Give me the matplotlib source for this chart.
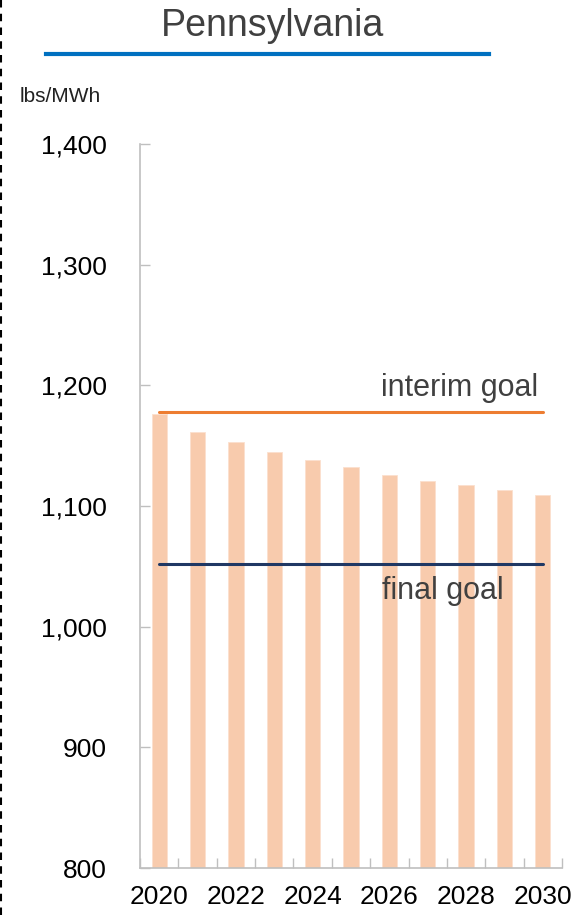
import numpy as np
import matplotlib.pyplot as plt
from matplotlib.lines import Line2D
from matplotlib.ticker import FuncFormatter

plt.rcParams['font.family'] = ['Liberation Sans', 'DejaVu Sans']

# data
years = [2020, 2021, 2022, 2023, 2024, 2025, 2026, 2027, 2028, 2029, 2030]
rates = [1176, 1161, 1153, 1145, 1138, 1132, 1126, 1121, 1117, 1113, 1109]
interim_goal = 1178
final_goal = 1052
year_labels = [2020, 2022, 2024, 2026, 2028, 2030]
y_ticks = [800, 900, 1000, 1100, 1200, 1300, 1400]

W, H = 586, 915
fig = plt.figure(figsize=(W / 100, H / 100), dpi=100)
ax = fig.add_axes([140 / W, 1 - 868 / H, 422 / W, 724 / H])

ax.bar(years, [r - 800 for r in rates], bottom=800, width=0.4,
       color='#F8CBAD', edgecolor='#FBE0CE', linewidth=0.6, zorder=2)

ax.plot([years[0], years[-1]], [interim_goal] * 2, color='#ED7D31', lw=2.2,
        solid_capstyle='round', zorder=3)
ax.plot([years[0], years[-1]], [final_goal] * 2, color='#203864', lw=2.2,
        solid_capstyle='round', zorder=3)

ax.text(2029.87, 1191, 'interim goal', ha='right', va='baseline',
        fontsize=22, color='#404040')
ax.text(2027.39, 1023, 'final goal', ha='center', va='baseline',
        fontsize=22, color='#404040')

ax.set_xlim(2019.5, 2030.5)
ax.set_ylim(800, 1400)

ax.set_yticks(y_ticks)
ax.yaxis.set_major_formatter(FuncFormatter(lambda v, p: f'{int(v):,}'))
ax.tick_params(axis='y', direction='in', length=7, width=1, color='#BFBFBF',
               labelsize=19, pad=24, labelcolor='black')

ax.set_xticks(year_labels)
ax.set_xticks(np.arange(2019.5, 2031, 1), minor=True)
ax.tick_params(axis='x', which='major', length=0, labelsize=19, pad=12,
               labelcolor='black')
ax.tick_params(axis='x', which='minor', direction='in', length=7, width=1,
               color='#BFBFBF')

for s in ['top', 'right']:
    ax.spines[s].set_visible(False)
for s in ['left', 'bottom']:
    ax.spines[s].set_color('#BFBFBF')
    ax.spines[s].set_linewidth(1.2)

fig.text(273 / W, 1 - 36 / H, 'Pennsylvania', ha='center', va='baseline',
         fontsize=27, color='#404040')
fig.add_artist(Line2D([46 / W, 489 / W], [1 - 54 / H] * 2, color='#0070C0',
                      lw=3, transform=fig.transFigure))
fig.text(20 / W, 1 - 102 / H, 'lbs/MWh', ha='left', va='baseline',
         fontsize=15, color='#222222')
fig.add_artist(Line2D([1 / W] * 2, [0, 1], color='black', lw=1.5,
                      linestyle=(0, (3.6, 3.0)), transform=fig.transFigure))

fig.savefig('out.png', dpi=100)
